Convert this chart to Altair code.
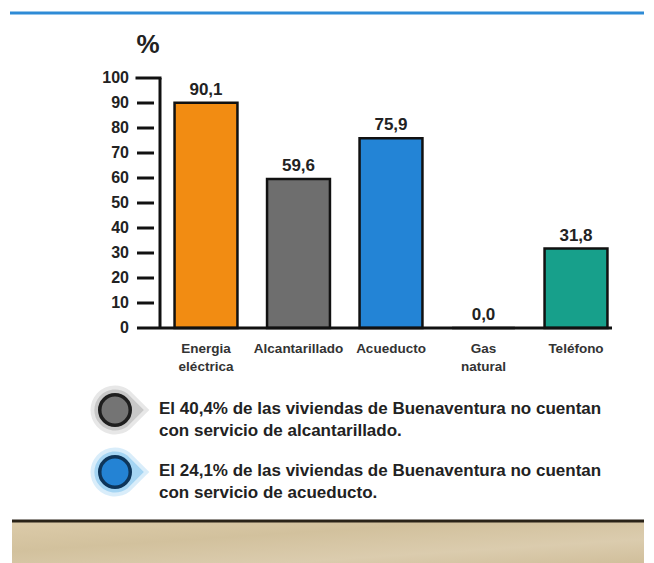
import altair as alt
import pandas as pd

# ---------------- data ----------------
categories = ["Energía eléctrica", "Alcantarillado", "Acueducto", "Gas natural", "Teléfono"]
cat_labels = ["Energia\neléctrica", "Alcantarillado", "Acueducto", "Gas\nnatural", "Teléfono"]
values = [90.1, 59.6, 75.9, 0.0, 31.8]
bar_colors = ["#F28C12", "#6E6E6E", "#2384D6", "#FFFFFF", "#17A08B"]
y_ticks = [0, 10, 20, 30, 40, 50, 60, 70, 80, 90, 100]
note_texts = [
    "El 40,4% de las viviendas de Buenaventura no cuentan\ncon servicio de alcantarillado.",
    "El 24,1% de las viviendas de Buenaventura no cuentan\ncon servicio de acueducto.",
]
note_fill = ["#747474", "#2483D4"]
note_ring = ["#1E1E1E", "#0E3559"]
note_halo = ["#C4C4C4", "#9FD2F2"]

FONT = "Liberation Sans"
TXT = "#222222"

bars_df = pd.DataFrame({
    "cat": categories,
    "label": cat_labels,
    "value": values,
    "vlabel": [f"{v:.1f}".replace(".", ",") for v in values],
})
ticks_df = pd.DataFrame({"t": y_ticks})
one = pd.DataFrame({"a": [0]})

xscale = alt.Scale(domain=categories, range=[151.75, 614.25], paddingInner=0.32, paddingOuter=0.16)
yscale = alt.Scale(domain=[0, 100], range=[320, 70])
X = alt.X("cat:N", scale=xscale, axis=None)

# ---------------- decorations ----------------
top_line = alt.Chart(one).mark_rule(color="#2E8BD6", strokeWidth=3).encode(
    x=alt.value(2), x2=alt.value(640), y=alt.value(5))

pct = alt.Chart(one).mark_text(text="%", font=FONT, fontSize=26, fontWeight="bold",
                               color=TXT, align="center", baseline="middle").encode(
    x=alt.value(140), y=alt.value(37))

# ---------------- axis ----------------
short_ticks = alt.Chart(ticks_df).transform_filter("datum.t > 0 && datum.t < 100").mark_rule(
    color="#111111", strokeWidth=3).encode(
    x=alt.value(129), x2=alt.value(146), y=alt.Y("t:Q", scale=yscale, axis=None))

top_tick = alt.Chart(ticks_df).transform_filter("datum.t == 100").mark_rule(
    color="#111111", strokeWidth=3, strokeCap="square").encode(
    x=alt.value(129), x2=alt.value(152), y=alt.Y("t:Q", scale=yscale, axis=None))

axis_line = alt.Chart(one).transform_calculate(top="100", bottom="0").mark_rule(
    color="#111111", strokeWidth=3).encode(
    x=alt.value(152), y=alt.Y("top:Q", scale=yscale, axis=None), y2="bottom:Q")

tick_labels = alt.Chart(ticks_df).mark_text(font=FONT, fontSize=16, fontWeight="bold",
                                            color=TXT, align="right", baseline="middle").encode(
    x=alt.value(121), y=alt.Y("t:Q", scale=yscale, axis=None), text="t:Q")

# ---------------- bars ----------------
bars = alt.Chart(bars_df).mark_bar(stroke="#111111", strokeWidth=2.5).encode(
    x=X,
    y=alt.Y("value:Q", scale=yscale, axis=None),
    color=alt.Color("cat:N", scale=alt.Scale(domain=categories, range=bar_colors), legend=None),
)

baseline = alt.Chart(one).transform_calculate(z="0").mark_rule(
    color="#111111", strokeWidth=3).encode(
    x=alt.value(129), x2=alt.value(604), y=alt.Y("z:Q", scale=yscale, axis=None))

value_labels = alt.Chart(bars_df).mark_text(font=FONT, fontSize=17, fontWeight="bold",
                                            color=TXT, align="center", baseline="alphabetic",
                                            dy=-8).encode(
    x=X, y=alt.Y("value:Q", scale=yscale, axis=None), text="vlabel:N")

cat_text = alt.Chart(bars_df).mark_text(font=FONT, fontSize=13.5, fontWeight="bold",
                                        color="#333333", align="center", baseline="alphabetic",
                                        lineBreak="\n", lineHeight=18).encode(
    x=X, y=alt.value(345), text="label:N")

# ---------------- notes ----------------
bubble = "M 1.4 0 L 0.6 -0.8 A 1 1 0 1 0 0.6 0.8 Z"
note_layers = []
for i, (txt, fc, rc, hc) in enumerate(zip(note_texts, note_fill, note_ring, note_halo)):
    cy = 402 + 62 * i
    d = pd.DataFrame({"txt": [txt]})
    halo_outer = alt.Chart(d).mark_point(shape=bubble, filled=True, fill=hc, opacity=0.4,
                                         size=2400, strokeWidth=0).encode(
        x=alt.value(107), y=alt.value(cy))
    halo = alt.Chart(d).mark_point(shape=bubble, filled=True, fill=hc, opacity=0.9,
                                   size=1700, strokeWidth=0).encode(
        x=alt.value(107), y=alt.value(cy))
    ring = alt.Chart(d).mark_point(shape="circle", filled=True, fill=fc, stroke=rc,
                                   strokeWidth=3.5, opacity=1, size=930).encode(
        x=alt.value(107), y=alt.value(cy))
    text = alt.Chart(d).mark_text(font=FONT, fontSize=17, fontWeight="bold", color=TXT,
                                  align="left", baseline="alphabetic", lineBreak="\n",
                                  lineHeight=22).encode(
        x=alt.value(151), y=alt.value(cy + 4), text="txt:N")
    note_layers += [halo_outer, halo, ring, text]

# ---------------- ground ----------------
sand = alt.Chart(one).mark_rect(
    color=alt.Gradient(
        gradient="linear", x1=0, y1=0, x2=1, y2=1,
        stops=[alt.GradientStop(color="#DCCBA9", offset=0),
               alt.GradientStop(color="#D2C19D", offset=0.35),
               alt.GradientStop(color="#DBCCAE", offset=0.7),
               alt.GradientStop(color="#D0BE9A", offset=1)])).encode(
    x=alt.value(4), x2=alt.value(640), y=alt.value(514), y2=alt.value(556))
ground_line = alt.Chart(one).mark_rule(color="#2A2318", strokeWidth=3).encode(
    x=alt.value(4), x2=alt.value(640), y=alt.value(513))

chart = alt.layer(
    top_line, pct, bars, baseline, short_ticks, top_tick, axis_line, tick_labels,
    value_labels, cat_text, *note_layers, sand, ground_line,
).properties(
    width=636, height=555, autosize=alt.AutoSizeParams(type="none"), padding=0,
).configure_view(stroke=None)

chart.save("out.html", embed_options={"renderer": "svg", "actions": False})
